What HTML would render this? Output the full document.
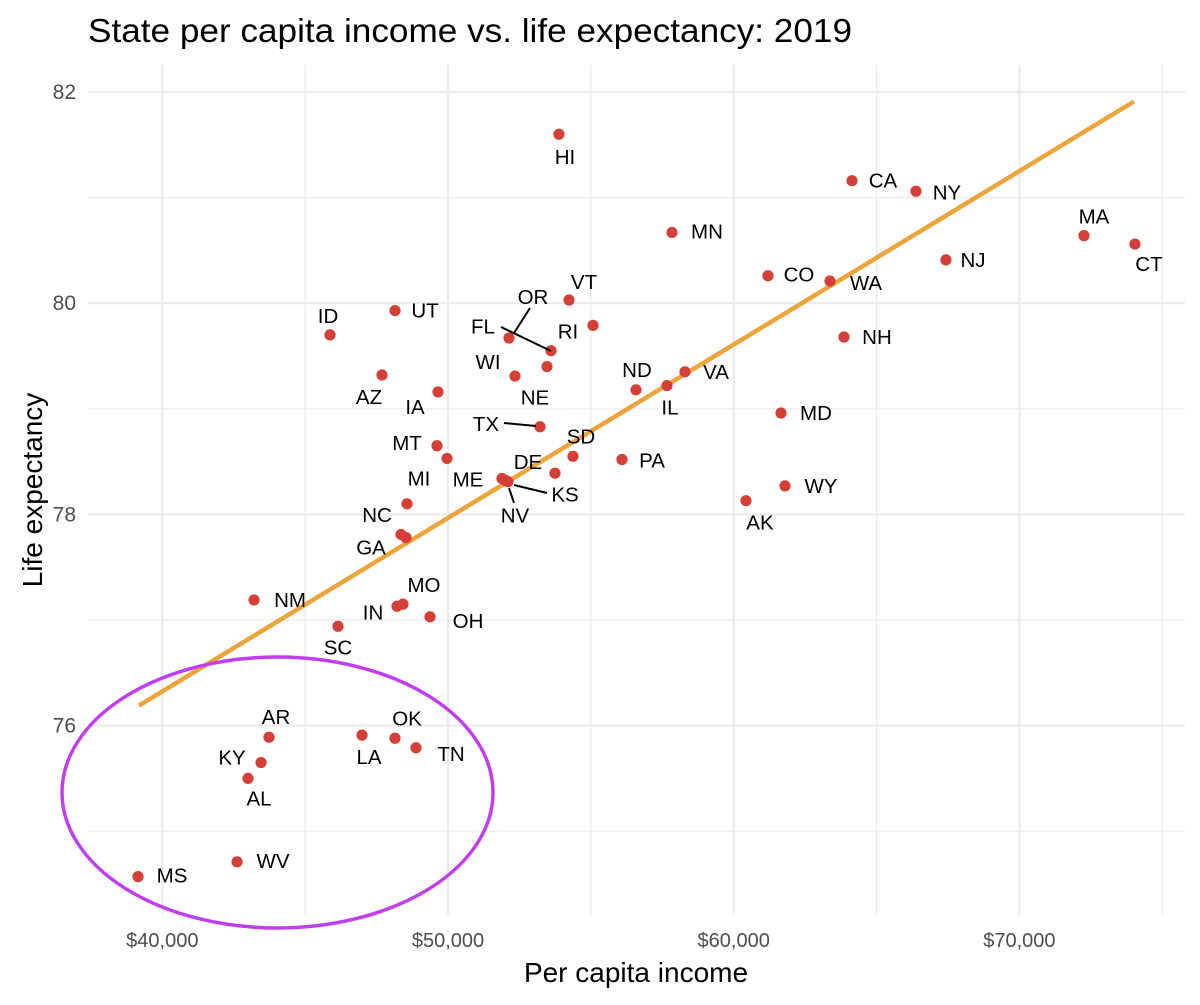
<!DOCTYPE html>
<html><head><meta charset="utf-8"><style>
body{margin:0;background:#fff;}
svg text{font-family:"Liberation Sans",Arial,sans-serif;}
</style></head><body>
<svg id="chart" width="1200" height="1000" xmlns="http://www.w3.org/2000/svg">
<rect width="1200" height="1000" fill="#fff"/>
<text x="88" y="42" font-size="33" textLength="764" lengthAdjust="spacingAndGlyphs" fill="#000">State per capita income vs. life expectancy: 2019</text>
<g id="grid"></g>
<g id="axes"></g>
<g id="trend"></g>
<g id="pts"></g>
<g id="lbls"></g>
<ellipse cx="277.5" cy="792.5" rx="215.5" ry="135.5" fill="none" stroke="#c03ef0" stroke-width="3.5"/>
<text x="636" y="982" font-size="28" text-anchor="middle" fill="#000">Per capita income</text>
<text transform="translate(42,490) rotate(-90)" font-size="28" text-anchor="middle" fill="#000">Life expectancy</text>
</svg>
<script>
const states = ["HI","CA","NY","MA","CT","MN","NJ","CO","WA","VT","UT","ID","RI","NH","OR","FL","WI","NE","AZ","IA","VA","ND","IL","MD","TX","MT","MI","SD","PA","DE","NC","GA","","ME","NV","KS","WY","AK","NM","IN","MO","OH","SC","AR","KY","AL","LA","OK","TN","MS","WV"];
const income = [53885,64140,66380,72260,74045,57840,67430,61200,63370,54235,48145,45870,55075,63860,52135,53605,52345,53465,47690,49650,58295,56580,57665,61655,53220,49615,49965,54375,56090,53745,48565,48530,48355,51890,52100,52030,61795,60430,43210,48215,48425,49370,46150,43735,43455,43000,46990,48145,48880,39150,42615];
const lifeExp = [81.60,81.16,81.06,80.64,80.56,80.67,80.41,80.26,80.21,80.03,79.93,79.70,79.79,79.68,79.67,79.55,79.31,79.40,79.32,79.16,79.35,79.18,79.22,78.96,78.83,78.65,78.53,78.55,78.52,78.39,78.10,77.78,77.81,78.34,78.31,78.32,78.27,78.13,77.19,77.13,77.15,77.03,76.94,75.89,75.65,75.50,75.91,75.88,75.79,74.57,74.71];
const trendX = [39185,74010];
const trendY = [76.19,81.91];
const xTicks = [40000,50000,60000,70000];
const xTickLabels = ["$40,000","$50,000","$60,000","$70,000"];
const xMinor = [45000,55000,65000,75000];
const yTicks = [76,78,80,82];
const yTickLabels = ["76","78","80","82"];
const yMinor = [75,77,79,81];

// label placement offsets (pixels, style only)
const lblOff = {HI:[6,23],CA:[31,0],NY:[31,1],MA:[10,-19],CT:[14,20],MN:[35,-1],NJ:[27,0],CO:[31,-1],WA:[36,2],VT:[15,-18],UT:[30,0],ID:[-2,-19],RI:[-25,6],NH:[33,0],OR:[24,-41],FL:[-68,-24],WI:[-27,-14],NE:[-12,31],AZ:[-13,22],IA:[-23,15],VA:[31,0],ND:[1,-20],IL:[3,22],MD:[35,0],TX:[-54,-3],MT:[-30,-3],MI:[-28,20],SD:[8,-20],PA:[30,1],DE:[-27,-11],NC:[-30,11],GA:[-35,10],ME:[-34,1],NV:[7,34],KS:[59,14],WY:[36,0],AK:[14,22],NM:[36,0],IN:[-24,6],MO:[21,-19],OH:[38,4],SC:[0,21],AR:[7,-20],KY:[-29,-5],AL:[11,20],LA:[7,22],OK:[12,-20],TN:[35,6],MS:[34,-1],WV:[36,-1]};
const segs = {OR:[[530,308],[514,333]],FL:[[501,327],[551,351]],TX:[[504,423],[536,426]],NV:[[509,488],[514,503]],KS:[[514,485],[547,493]]};

const X = v => 448 + (v-50000)*0.02857;
const Y = v => 92 + (82-v)*105.6;
const NS="http://www.w3.org/2000/svg";
function mk(tag, attrs, parent){const e=document.createElementNS(NS,tag);for(const k in attrs)e.setAttribute(k,attrs[k]);parent.appendChild(e);return e;}
const grid=document.getElementById('grid'), axes=document.getElementById('axes');
const L=88,R=1185,T=65,B=915;
yMinor.forEach(v=>{const e=mk('line',{x1:L,x2:R,y1:Y(v),y2:Y(v),stroke:'#ebebeb','stroke-width':1.2},grid);

});
xMinor.forEach(v=>{const e=mk('line',{x1:X(v),x2:X(v),y1:T,y2:B,stroke:'#ebebeb','stroke-width':1.2},grid);

});
yTicks.forEach((v,i)=>{const e=mk('line',{x1:L,x2:R,y1:Y(v),y2:Y(v),stroke:'#ebebeb','stroke-width':2.2},grid);


const t=mk('text',{x:76,y:Y(v)+7,'font-size':21,'text-anchor':'end',fill:'#4d4d4d'},axes);t.textContent=yTickLabels[i];

});
xTicks.forEach((v,i)=>{const e=mk('line',{x1:X(v),x2:X(v),y1:T,y2:B,stroke:'#ebebeb','stroke-width':2.2},grid);


const t=mk('text',{x:X(v),y:947,'font-size':20,'text-anchor':'middle',fill:'#4d4d4d'},axes);t.textContent=xTickLabels[i];

});
const tl=mk('line',{x1:X(trendX[0]),y1:Y(trendY[0]),x2:X(trendX[1]),y2:Y(trendY[1]),stroke:'#eda43a','stroke-width':4.5},document.getElementById('trend'));


const pts=document.getElementById('pts'), lbls=document.getElementById('lbls');
states.forEach((s,i)=>{
 const cx=X(income[i]), cy=Y(lifeExp[i]);
 const c=mk('circle',{cx:cx,cy:cy,r:5.6,fill:'#d43f38'},pts);
 
 
 if(!s) return;
 const o=lblOff[s]||[20,0];
 if(segs[s]){const g=segs[s];const sl=mk('line',{x1:g[0][0],y1:g[0][1],x2:g[1][0],y2:g[1][1],stroke:'#000','stroke-width':2},lbls);
  
  }
 const t=mk('text',{x:cx+o[0],y:cy+o[1]+7,'font-size':20.5,'text-anchor':'middle',fill:'#000'},lbls);
 t.textContent=s;
 
 
});
</script>
</body></html>
